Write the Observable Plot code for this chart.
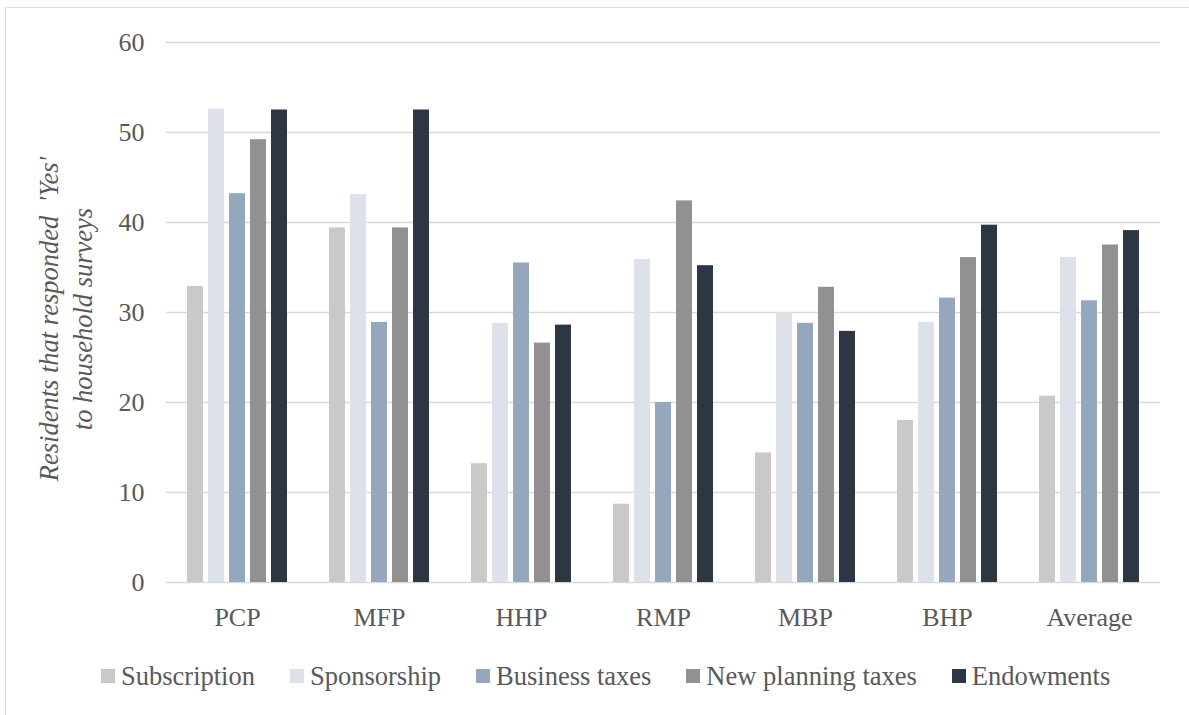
<!DOCTYPE html>
<html>
<head>
<meta charset="utf-8">
<script src="https://cdn.jsdelivr.net/npm/d3@7"></script>
<script src="https://cdn.jsdelivr.net/npm/@observablehq/plot@0.6"></script>
<style>
  html, body { margin: 0; padding: 0; background: #ffffff; }
  #wrap { position: relative; width: 1189px; height: 715px; overflow: hidden; color: #595959; background: #fff;
          font-family: "Liberation Serif", "Times New Roman", serif; }
  #border { position: absolute; left: 5px; top: 7px; width: 1300px; height: 800px;
            border: 1.5px solid #dcdcdc; box-sizing: border-box; }
  #chart { position: absolute; left: 0; top: 0; }
  #ylabel { position: absolute; left: 66px; top: 319px; transform: translate(-50%, -50%) rotate(-90deg);
            white-space: pre; text-align: center; font-style: italic; font-size: 26.5px; line-height: 34px; }
  #legend { position: absolute; left: 101px; top: 660px; height: 32px; display: flex; align-items: center;
            font-size: 26.5px; line-height: 32px; white-space: nowrap; }
  .item { display: flex; align-items: center; margin-right: 35px; }
  .sw { width: 14px; height: 14px; margin-right: 6px; }
</style>
</head>
<body>
<div id="wrap">
  <div id="border"></div>
  <div id="chart"></div>
  <div id="ylabel"></div>
  <div id="legend"></div>
</div>
<script>
const groups = ["PCP", "MFP", "HHP", "RMP", "MBP", "BHP", "Average"];
const seriesNames = ["Subscription", "Sponsorship", "Business taxes", "New planning taxes", "Endowments"];
const subscription     = [32.9, 39.4, 13.2,  8.7, 14.4, 18.0, 20.7];
const sponsorship      = [52.6, 43.1, 28.8, 35.9, 30.0, 28.9, 36.1];
const businessTaxes    = [43.2, 28.9, 35.5, 20.0, 28.8, 31.6, 31.3];
const newPlanningTaxes = [49.2, 39.4, 26.6, 42.4, 32.8, 36.1, 37.5];
const endowments       = [52.5, 52.5, 28.6, 35.2, 27.9, 39.7, 39.1];
const colors = ["#c9c9c9", "#dde2ea", "#95a7bd", "#919191", "#2d3743"];
const yTicks = [0, 10, 20, 30, 40, 50, 60];
const yLabelLines = ["Residents that responded  'Yes'", "to household surveys"];

const seriesValues = [subscription, sponsorship, businessTaxes, newPlanningTaxes, endowments];
const rows = [];
groups.forEach((g, gi) => {
  seriesNames.forEach((s, si) => {
    rows.push({group: g, series: s, value: seriesValues[si][gi]});
  });
});

const font = '"Liberation Serif", "Times New Roman", serif';
const chart = Plot.plot({
  width: 1189,
  height: 640,
  marginLeft: 165,
  marginRight: 28,
  marginTop: 42,
  marginBottom: 58,
  style: {fontFamily: font, fontSize: "26px", color: "#595959", background: "transparent", overflow: "visible"},
  fx: {domain: groups, paddingInner: 0, paddingOuter: 0, label: null, tickSize: 0, tickPadding: 25, axis: "bottom"},
  x: {domain: seriesNames, paddingInner: 0.227, paddingOuter: 0.847, axis: null},
  y: {domain: [0, 60], ticks: yTicks, tickSize: 0, tickPadding: 22, label: null},
  color: {domain: seriesNames, range: colors},
  marks: [
    Plot.ruleY(yTicks, {stroke: "#d9d9d9", strokeWidth: 1.5}),
    Plot.barY(rows, {fx: "group", x: "series", y: "value", fill: "series"})
  ]
});
document.getElementById("chart").appendChild(chart);

document.getElementById("ylabel").textContent = yLabelLines.join("\n");

const legend = document.getElementById("legend");
seriesNames.forEach((s, i) => {
  const item = document.createElement("div");
  item.className = "item";
  const sw = document.createElement("div");
  sw.className = "sw";
  sw.style.background = colors[i];
  const t = document.createElement("span");
  t.textContent = s;
  item.appendChild(sw);
  item.appendChild(t);
  legend.appendChild(item);
});
</script>
</body>
</html>
